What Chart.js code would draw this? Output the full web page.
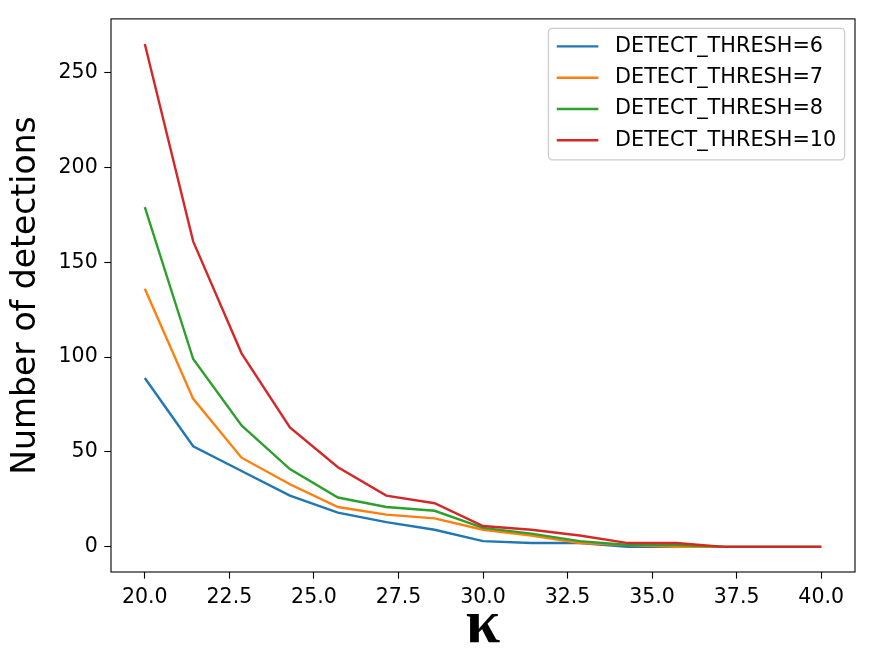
<!DOCTYPE html>
<html>
<head>
<meta charset="utf-8">
<script src="https://cdn.jsdelivr.net/npm/chart.js@4.4.1/dist/chart.umd.min.js"></script>
<style>
  html, body { margin: 0; padding: 0; background: #fff; }
  #chart { display: block; }
</style>
</head>
<body>
<canvas id="chart" width="873" height="663"></canvas>
<script>
// kappa values (x axis)
var kappa = [20, 21.43, 22.86, 24.29, 25.71, 27.14, 28.57, 30, 31.43, 32.86, 34.29, 35.71, 37.14, 38.57, 40];

// number of detections per threshold
var thresh6  = [89, 53, 40, 27, 18, 13, 9, 3, 2, 2, 0, 0, 0, 0, 0];
var thresh7  = [136, 78, 47, 33, 21, 17, 15, 9, 6, 2, 1, 0, 0, 0, 0];
var thresh8  = [179, 99, 64, 41, 26, 21, 19, 10, 7, 3, 1, 1, 0, 0, 0];
var thresh10 = [265, 161, 102, 63, 42, 27, 23, 11, 9, 6, 2, 2, 0, 0, 0];

var seriesLabels = ["DETECT_THRESH=6", "DETECT_THRESH=7", "DETECT_THRESH=8", "DETECT_THRESH=10"];

// tick labels
var xTicks = [20, 22.5, 25, 27.5, 30, 32.5, 35, 37.5, 40];
var yTicks = [0, 50, 100, 150, 200, 250];

function points(ys) {
	return ys.map(function(y, i) { return {x: kappa[i], y: y}; });
}

function makeSet(label, ys, color, order) {
	return {
		label: label,
		data: points(ys),
		borderColor: color,
		backgroundColor: color,
		borderWidth: 2.4,
		pointRadius: 0,
		tension: 0,
		fill: false,
		order: order
	};
}

// axes frame + matplotlib style legend inside the plot
var framePlugin = {
	id: "frame",
	afterDraw: function(chart) {
		var ctx = chart.ctx, a = chart.chartArea;
		ctx.save();
		ctx.strokeStyle = "#000";
		ctx.lineWidth = 1.1;
		ctx.strokeRect(a.left, a.top, a.right - a.left, a.bottom - a.top);

		var fs = 20.8;
		ctx.font = fs + "px 'DejaVu Sans'";
		var sets = chart.data.datasets;
		var maxW = 0;
		sets.forEach(function(ds) { maxW = Math.max(maxW, ctx.measureText(ds.label).width); });
		var pad = 0.4 * fs, handle = 2 * fs, gap = 0.8 * fs, rowH = 20.9, spacing = 0.5 * fs;
		var w = pad + handle + gap + maxW + pad;
		var h = 2 * pad + sets.length * rowH + (sets.length - 1) * spacing;
		var x0 = a.right - 0.5 * fs - w, y0 = a.top + 9.5;

		ctx.beginPath();
		ctx.roundRect(x0, y0, w, h, 4);
		ctx.fillStyle = "rgba(255,255,255,0.8)";
		ctx.fill();
		ctx.strokeStyle = "#cccccc";
		ctx.lineWidth = 1.3;
		ctx.stroke();

		ctx.textBaseline = "middle";
		ctx.textAlign = "left";
		sets.forEach(function(ds, i) {
			var cy = y0 + pad + 9.7 + i * (rowH + spacing);
			ctx.beginPath();
			ctx.moveTo(x0 + pad, cy);
			ctx.lineTo(x0 + pad + handle, cy);
			ctx.strokeStyle = ds.borderColor;
			ctx.lineWidth = 2.4;
			ctx.stroke();
			ctx.fillStyle = "#000";
			ctx.fillText(ds.label, x0 + pad + handle + gap, cy);
		});
		ctx.restore();
	}
};

var ctx = document.getElementById("chart");

var data = {
	datasets: [
		makeSet(seriesLabels[0], thresh6, "#1f77b4", 4),
		makeSet(seriesLabels[1], thresh7, "#ff7f0e", 3),
		makeSet(seriesLabels[2], thresh8, "#2ca02c", 2),
		makeSet(seriesLabels[3], thresh10, "#d62728", 1)
	]
};

var tickFont = {family: "'DejaVu Sans'", size: 20.5};

var options = {
	responsive: false,
	animation: false,
	layout: { padding: {left: 0, top: 18, right: 18, bottom: 0} },
	plugins: {
		legend: { display: false },
		tooltip: { enabled: false }
	},
	scales: {
		x: {
			type: "linear",
			min: 19,
			max: 41,
			afterBuildTicks: function(scale) {
				scale.ticks = xTicks.map(function(v) { return {value: v}; });
			},
			afterFit: function(scale) { scale.height = 91; },
			ticks: {
				color: "#000",
				font: tickFont,
				padding: 6.6,
				maxRotation: 0,
				autoSkip: false,
				callback: function(v) { return Number(v).toFixed(1); }
			},
			grid: {
				display: true,
				drawOnChartArea: false,
				tickLength: 6.7,
				tickWidth: 1.1,
				tickColor: "#000"
			},
			border: { display: false },
			title: {
				display: true,
				text: "κ",
				color: "#000",
				font: {family: "'Liberation Serif'", size: 62, weight: "bold", lineHeight: 1},
				padding: {top: 0, bottom: 6}
			}
		},
		y: {
			type: "linear",
			min: -13.25,
			max: 278.25,
			afterBuildTicks: function(scale) {
				scale.ticks = yTicks.map(function(v) { return {value: v}; });
			},
			afterFit: function(scale) { scale.width = 111; },
			ticks: {
				color: "#000",
				font: tickFont,
				padding: 6.6,
				autoSkip: false
			},
			grid: {
				display: true,
				drawOnChartArea: false,
				tickLength: 6.7,
				tickWidth: 1.1,
				tickColor: "#000"
			},
			border: { display: false },
			title: {
				display: true,
				text: "Number of detections",
				color: "#000",
				font: {family: "'DejaVu Sans'", size: 33, lineHeight: 1},
				padding: {top: 10, bottom: 0}
			}
		}
	}
};

var chart = new Chart(ctx, {
	type: "line",
	data: data,
	options: options,
	plugins: [framePlugin]
});
</script>
</body>
</html>
